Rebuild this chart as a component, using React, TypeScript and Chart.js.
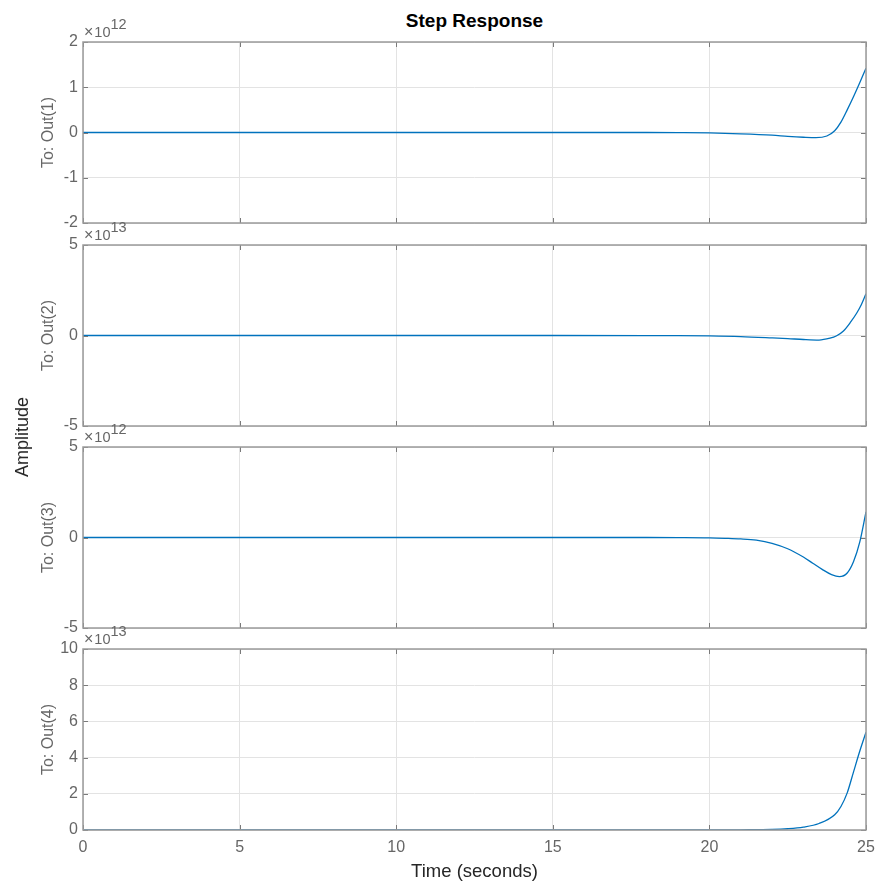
import React, { useEffect, useRef } from "react";
import { Chart, registerables } from "chart.js";

Chart.register(...registerables);

// ---------- data ----------
const timeTicks = [0, 5, 10, 15, 20, 25];

const outLabels = ["To: Out(1)", "To: Out(2)", "To: Out(3)", "To: Out(4)"];
const exponents = ["12", "13", "12", "13"];

const yTicks1 = [-2, -1, 0, 1, 2];
const yTicks2 = [-5, 0, 5];
const yTicks3 = [-5, 0, 5];
const yTicks4 = [0, 2, 4, 6, 8, 10];

// Out(1), in units of 1e12
const t1 = [0, 5, 10, 15, 18, 19, 20, 21, 22, 22.5, 23, 23.4, 23.75, 24, 24.2, 24.4, 24.6, 24.8, 25];
const y1 = [0, 0, 0, 0, 0, -0.003, -0.01, -0.03, -0.06, -0.085, -0.105, -0.115, -0.077, 0.04, 0.23, 0.5, 0.79, 1.1, 1.42];

// Out(2), in units of 1e13
const t2 = [0, 5, 10, 15, 18, 19, 20, 21, 22, 22.5, 23, 23.5, 23.85, 24.05, 24.28, 24.5, 24.7, 24.85, 25];
const y2 = [0, 0, 0, 0, -0.005, -0.01, -0.025, -0.06, -0.13, -0.17, -0.22, -0.25, -0.15, -0.03, 0.25, 0.72, 1.23, 1.7, 2.3];

// Out(3), in units of 1e12
const t3 = [0, 5, 10, 15, 18, 19, 20, 20.5, 21, 21.5, 22, 22.5, 23, 23.3, 23.6, 23.9, 24.15, 24.4, 24.6, 24.8, 25];
const y3 = [0, 0, 0, 0, 0, -0.005, -0.02, -0.045, -0.08, -0.15, -0.32, -0.62, -1.08, -1.42, -1.76, -2.05, -2.16, -1.96, -1.34, -0.26, 1.42];

// Out(4), in units of 1e13
const t4 = [0, 5, 10, 15, 20, 21, 22, 22.5, 23, 23.5, 24, 24.2, 24.4, 24.6, 24.8, 25];
const y4 = [0, 0, 0, 0, 0, 0.01, 0.03, 0.07, 0.16, 0.36, 0.84, 1.3, 2.05, 3.2, 4.35, 5.4];

const seriesT = [t1, t2, t3, t4];
const seriesY = [y1, y2, y3, y4];
const yTickSets = [yTicks1, yTicks2, yTicks3, yTicks4];

// ---------- layout / style ----------
const W = 877;
const H = 885;
const PLOT_LEFT = 83;
const PLOT_RIGHT = 866;
const BOXES: [number, number][] = [
  [42, 223],
  [245, 426],
  [447, 628],
  [649, 830],
];
const FONT = "'Liberation Sans', Arial, Helvetica, sans-serif";
const TICK_COLOR = "#666666";
const GRID_COLOR = "#e3e3e3";
const BOX_COLOR = "#9a9a9a";
const LINE_COLOR = "rgb(0,114,189)";

const boxPlugin = {
  id: "matlabBox",
  afterDraw(chart: any) {
    const { ctx, chartArea: a, scales } = chart;
    ctx.save();
    ctx.strokeStyle = "#7a7a7a";
    ctx.lineWidth = 1;
    const tl = 5;
    ctx.beginPath();
    scales.x.ticks.forEach((t: any) => {
      const px = Math.round(scales.x.getPixelForValue(t.value)) + 0.5;
      ctx.moveTo(px, a.bottom);
      ctx.lineTo(px, a.bottom - tl);
      ctx.moveTo(px, a.top);
      ctx.lineTo(px, a.top + tl);
    });
    scales.y.ticks.forEach((t: any) => {
      const py = Math.round(scales.y.getPixelForValue(t.value)) + 0.5;
      ctx.moveTo(a.left, py);
      ctx.lineTo(a.left + tl, py);
      ctx.moveTo(a.right, py);
      ctx.lineTo(a.right - tl, py);
    });
    ctx.stroke();
    ctx.strokeStyle = BOX_COLOR;
    ctx.lineWidth = 1.5;
    ctx.strokeRect(a.left, a.top, a.right - a.left, a.bottom - a.top);
    ctx.restore();
  },
};

const zeroPad = (s: any) => {
  s.paddingTop = 0;
  s.paddingBottom = 0;
  s.paddingLeft = 0;
  s.paddingRight = 0;
};

export default function App() {
  const refs = [
    useRef<HTMLCanvasElement>(null),
    useRef<HTMLCanvasElement>(null),
    useRef<HTMLCanvasElement>(null),
    useRef<HTMLCanvasElement>(null),
  ];

  useEffect(() => {
    const charts: Chart[] = [];
    BOXES.forEach((box, i) => {
      const canvas = refs[i].current;
      if (!canvas) return;
      const last = i === BOXES.length - 1;
      const ticksY = yTickSets[i];
      const data = seriesT[i].map((t, k) => ({ x: t, y: seriesY[i][k] }));
      const chart = new Chart(canvas, {
        type: "line",
        data: {
          datasets: [
            {
              data,
              borderColor: LINE_COLOR,
              borderWidth: 1.3,
              pointRadius: 0,
              fill: false,
              cubicInterpolationMode: "monotone",
            },
          ],
        },
        plugins: [boxPlugin],
        options: {
          animation: false,
          responsive: false,
          maintainAspectRatio: false,
          devicePixelRatio: 1,
          events: [],
          layout: { padding: { top: 10, left: 0, right: W - PLOT_RIGHT, bottom: last ? 0 : 10 } },
          plugins: { legend: { display: false }, tooltip: { enabled: false }, title: { display: false } },
          scales: {
            x: {
              type: "linear",
              min: 0,
              max: 25,
              afterBuildTicks: (axis: any) => {
                axis.ticks = timeTicks.map((v) => ({ value: v }));
              },
              afterFit: (s: any) => {
                s.height = last ? H - box[1] : 0;
                zeroPad(s);
              },
              grid: { color: GRID_COLOR, drawTicks: false },
              border: { display: false },
              ticks: {
                display: last,
                padding: 8,
                color: TICK_COLOR,
                font: { family: FONT, size: 16 },
                maxRotation: 0,
                callback: (v: any) => String(v),
              },
              title: {
                display: last,
                text: "Time (seconds)",
                color: "#262626",
                font: { family: FONT, size: 18.5 },
                padding: { top: 0, bottom: 2 },
              },
            },
            y: {
              type: "linear",
              min: ticksY[0],
              max: ticksY[ticksY.length - 1],
              afterBuildTicks: (axis: any) => {
                axis.ticks = ticksY.map((v) => ({ value: v }));
              },
              afterFit: (s: any) => {
                s.width = PLOT_LEFT;
                zeroPad(s);
              },
              grid: { color: GRID_COLOR, drawTicks: false },
              border: { display: false },
              ticks: {
                padding: 5,
                color: TICK_COLOR,
                font: { family: FONT, size: 16 },
                callback: (v: any) => String(v),
              },
              title: {
                display: true,
                text: outLabels[i],
                color: TICK_COLOR,
                font: { family: FONT, size: 16 },
                padding: { top: 39, bottom: 0 },
              },
            },
          },
        },
      } as any);
      charts.push(chart);
    });
    return () => charts.forEach((c) => c.destroy());
  }, []);

  return (
    <div
      style={{
        position: "absolute",
        left: 0,
        top: 0,
        width: W,
        height: H,
        background: "#ffffff",
        fontFamily: FONT,
        overflow: "hidden",
      }}
    >
      {BOXES.map((box, i) => {
        const last = i === BOXES.length - 1;
        const top = box[0] - 10;
        const h = box[1] - box[0] + 10 + (last ? H - box[1] : 10);
        return (
          <canvas
            key={"c" + i}
            ref={refs[i]}
            width={W}
            height={h}
            style={{ position: "absolute", left: 0, top, width: W, height: h }}
          />
        );
      })}
      {BOXES.map((box, i) => (
        <div
          key={"e" + i}
          style={{
            position: "absolute",
            left: 84,
            top: box[0] - 17,
            fontSize: 14.5,
            lineHeight: "14px",
            color: TICK_COLOR,
            whiteSpace: "nowrap",
          }}
        >
          <span style={{ marginRight: 1, fontSize: 16 }}>×</span>10
          <span style={{ position: "relative", top: -8 }}>{exponents[i]}</span>
        </div>
      ))}
      <div
        style={{
          position: "absolute",
          left: (PLOT_LEFT + PLOT_RIGHT) / 2,
          top: 20.4,
          transform: "translate(-50%, -50%)",
          fontSize: 19,
          lineHeight: "19px",
          fontWeight: "bold",
          color: "#000000",
          whiteSpace: "nowrap",
        }}
      >
        Step Response
      </div>
      <div
        style={{
          position: "absolute",
          left: 22,
          top: 437,
          transform: "translate(-50%, -50%) rotate(-90deg)",
          fontSize: 18,
          lineHeight: "18px",
          color: "#262626",
          whiteSpace: "nowrap",
        }}
      >
        Amplitude
      </div>
    </div>
  );
}
